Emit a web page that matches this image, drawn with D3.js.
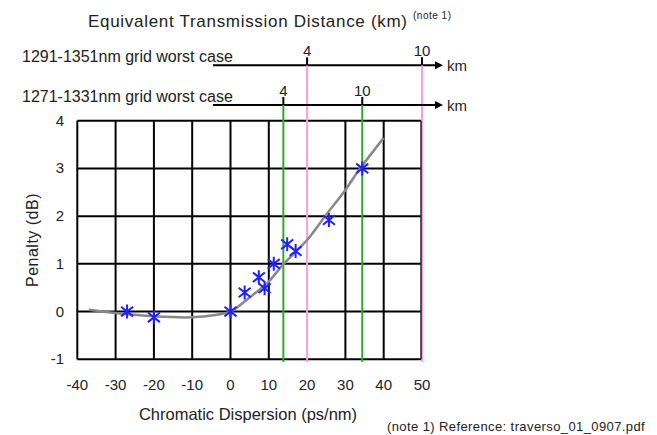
<!DOCTYPE html>
<html>
<head>
<meta charset="utf-8">
<script src="https://cdn.jsdelivr.net/npm/d3@7"></script>
<style>
  body { margin: 0; background: #fff; }
  svg text { font-family: "Liberation Sans", Arial, sans-serif; fill: #222; }
</style>
</head>
<body>
<div id="chart"></div>
<script>
// axis ticks
const xTicks = [-40, -30, -20, -10, 0, 10, 20, 30, 40, 50];
const yTicks = [-1, 0, 1, 2, 3, 4];

// measured penalty (asterisks)
const measDisp    = [-27, -20, 0, 3.7, 7.4, 8.9, 11.3, 14.8, 17.0, 25.7, 34.4];
const measPenalty = [0, -0.12, 0, 0.40, 0.72, 0.49, 1.0, 1.41, 1.27, 1.92, 3.0];

// fitted curve (grey)
const fitDisp    = [-37, -30, -20, -10, -4, 0, 4, 7.4, 10, 13.9, 20, 24.7, 30, 33.4, 40];
const fitPenalty = [0.04, -0.03, -0.1, -0.12, -0.07, 0, 0.23, 0.45, 0.63, 1.0, 1.5, 2.0, 2.55, 2.95, 3.64];

// equivalent distance axes: km tick labels and their dispersion positions
const kmTicks = [4, 10];
const grid1Label = '1291-1351nm grid worst case';
const grid1Disp = [20, 50];
const grid2Label = '1271-1331nm grid worst case';
const grid2Disp = [13.8, 34.4];

const W = 657, H = 435;
const svg = d3.select('#chart').append('svg').attr('width', W).attr('height', H);

const x = d3.scaleLinear().domain([-40, 50]).range([77.3, 422]);
const y = d3.scaleLinear().domain([-1, 4]).range([359.3, 120.7]);

// title
svg.append('text').attr('x', 88).attr('y', 27)
    .style('font-size', '17px').style('letter-spacing', '0.7px')
    .text('Equivalent Transmission Distance (km)');
svg.append('text').attr('x', 413).attr('y', 19)
    .style('font-size', '10px').style('letter-spacing', '0.5px').text('(note 1)');

// grid
const grid = svg.append('g');
grid.selectAll('line.gx').data(xTicks.filter(function(d) { return d != 20; })).enter()
    .append('line').attr('class', 'gx')
    .attr('x1', function(d) { return x(d); }).attr('x2', function(d) { return x(d); })
    .attr('y1', y(4)).attr('y2', y(-1))
    .attr('stroke', '#000').attr('stroke-width', 2);
grid.selectAll('line.gy').data(yTicks).enter()
    .append('line').attr('class', 'gy')
    .attr('x1', x(-40)).attr('x2', x(50))
    .attr('y1', function(d) { return y(d); }).attr('y2', function(d) { return y(d); })
    .attr('stroke', '#000').attr('stroke-width', 2);

// distance axes
function distAxis(label, disp, axY, color) {
    svg.append('text').attr('x', 22).attr('y', axY - 3)
        .style('font-size', '16px').text(label);
    svg.append('line').attr('x1', 213).attr('x2', 437)
        .attr('y1', axY).attr('y2', axY)
        .attr('stroke', '#000').attr('stroke-width', 2);
    svg.append('path')
        .attr('d', 'M443,' + axY + 'L435,' + (axY - 4) + 'L435,' + (axY + 4) + 'Z')
        .attr('fill', '#000');
    svg.append('text').attr('x', 447).attr('y', axY + 6)
        .style('font-size', '15px').text('km');
    disp.forEach(function(d, i) {
        svg.append('line').attr('x1', x(d)).attr('x2', x(d))
            .attr('y1', axY).attr('y2', 362)
            .attr('stroke', color).attr('stroke-width', 2);
        svg.append('line').attr('x1', x(d)).attr('x2', x(d))
            .attr('y1', axY - 8).attr('y2', axY)
            .attr('stroke', '#000').attr('stroke-width', 2);
        svg.append('text').attr('x', x(d)).attr('y', axY - 9)
            .attr('text-anchor', 'middle')
            .style('font-size', '15px').text(kmTicks[i]);
    });
}
distAxis(grid1Label, grid1Disp, 65.3, '#ff9fcc');
distAxis(grid2Label, grid2Disp, 105, '#2eaa2e');

// right border drawn over the pink line
svg.append('line').attr('x1', x(50) - 1).attr('x2', x(50) - 1)
    .attr('y1', y(4)).attr('y2', y(-1))
    .attr('stroke', '#222').attr('stroke-width', 1.5);

// tick labels
svg.selectAll('text.xt').data(xTicks).enter()
    .append('text').attr('class', 'xt')
    .attr('x', function(d) { return x(d); }).attr('y', 390)
    .attr('text-anchor', 'middle')
    .style('font-size', '15px').text(function(d) { return d; });
svg.selectAll('text.yt').data(yTicks).enter()
    .append('text').attr('class', 'yt')
    .attr('x', 64).attr('y', function(d) { return y(d) + 5; })
    .attr('text-anchor', 'end')
    .style('font-size', '15px').text(function(d) { return d; });

// axis titles
svg.append('text').attr('x', 248).attr('y', 420).attr('text-anchor', 'middle')
    .style('font-size', '16.5px').text('Chromatic Dispersion (ps/nm)');
svg.append('text').attr('transform', 'translate(38,240) rotate(-90)')
    .attr('text-anchor', 'middle')
    .style('font-size', '16px').style('letter-spacing', '0.5px').text('Penalty (dB)');
svg.append('text').attr('x', 387).attr('y', 431)
    .style('font-size', '13px').style('letter-spacing', '0.4px')
    .text('(note 1) Reference: traverso_01_0907.pdf');

// fitted curve
const fit = fitDisp.map(function(d, i) { return [d, fitPenalty[i]]; });
svg.append('path').datum(fit)
    .attr('d', d3.line()
        .x(function(d) { return x(d[0]); })
        .y(function(d) { return y(d[1]); })
        .curve(d3.curveCatmullRom))
    .attr('fill', 'none').attr('stroke', '#888').attr('stroke-width', 2.5);

// asterisk markers
const meas = measDisp.map(function(d, i) { return [d, measPenalty[i]]; });
const r = 6;
svg.selectAll('path.star').data(meas).enter()
    .append('path').attr('class', 'star')
    .attr('transform', function(d) { return 'translate(' + x(d[0]) + ',' + y(d[1]) + ')'; })
    .attr('d', 'M' + (-r) + ',' + (-r * 0.8) + 'L' + r + ',' + (r * 0.8) +
        'M' + (-r) + ',' + (r * 0.8) + 'L' + r + ',' + (-r * 0.8) +
        'M0,' + (-r - 1) + 'L0,' + (r + 1))
    .attr('stroke', '#2020ff').attr('stroke-width', 2).attr('fill', 'none');
</script>
</body>
</html>
